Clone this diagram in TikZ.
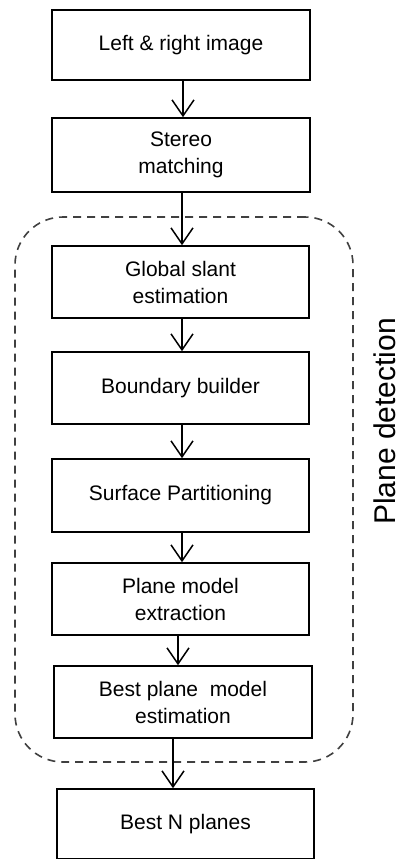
\documentclass[tikz,border=0pt]{standalone}
\usepackage{fontspec}
\setmainfont{Liberation Sans}
\usetikzlibrary{arrows.meta}
\tikzset{
  stage/.style={draw, line width=1.6pt, inner sep=0pt, align=center,
    font=\fontsize{21}{27}\selectfont},
  flow/.style={line width=1.5pt,
    -{Straight Barb[length=16pt,width=22pt,line width=1.5pt]}},
  group/.style={draw=black!75, line width=1.6pt, dash pattern=on 8pt off 6pt,
    rounded corners=48pt, inner sep=0pt},
  grouplabel/.style={rotate=90, anchor=base, inner sep=0pt,
    font=\fontsize{30}{36}\selectfont},
}
\begin{document}
\begin{tikzpicture}[x=1pt,y=-1pt]
\useasboundingbox (0,0) rectangle (402,859);

% plane detection group
\node[group, minimum width=338pt, minimum height=545pt] (pd) at (184,489.5) {};
\node[grouplabel] (pdlabel) at (395,421.5) {Plane detection};

% processing stages
\node[stage, minimum width=258pt, minimum height=70pt] (b1) at (181,45) {Left \& right image};
\node[stage, minimum width=258pt, minimum height=74pt] (b2) at (181,155) {Stereo\\matching};
\node[stage, minimum width=257pt, minimum height=72pt] (b3) at (180.5,282) {Global slant\\estimation};
\node[stage, minimum width=257pt, minimum height=72pt] (b4) at (180.5,388) {Boundary builder};
\node[stage, minimum width=257pt, minimum height=73pt] (b5) at (180.5,495.5) {Surface Partitioning};
\node[stage, minimum width=257pt, minimum height=72pt] (b6) at (180.5,599) {Plane model\\extraction};
\node[stage, minimum width=258pt, minimum height=72pt] (b7) at (183,702) {Best plane\ \ model\\estimation};
\node[stage, minimum width=257pt, minimum height=70pt] (b8) at (185.5,824) {Best N planes};

% connectors
\draw[flow] ([xshift=2pt]b1.south) -- ([xshift=2pt]b2.north);
\draw[flow] ([xshift=1pt]b2.south) -- ([xshift=1.5pt]b3.north);
\draw[flow] ([xshift=1.5pt]b3.south) -- ([xshift=1.5pt]b4.north);
\draw[flow] ([xshift=1.5pt]b4.south) -- ([xshift=1.5pt]b5.north);
\draw[flow] ([xshift=1.5pt]b5.south) -- ([xshift=1.5pt]b6.north);
\draw[flow] ([xshift=-2.5pt]b6.south) -- ([xshift=-5pt]b7.north);
\draw[flow] ([xshift=-10pt]b7.south) -- ([xshift=-12.5pt]b8.north);
\end{tikzpicture}
\end{document}
